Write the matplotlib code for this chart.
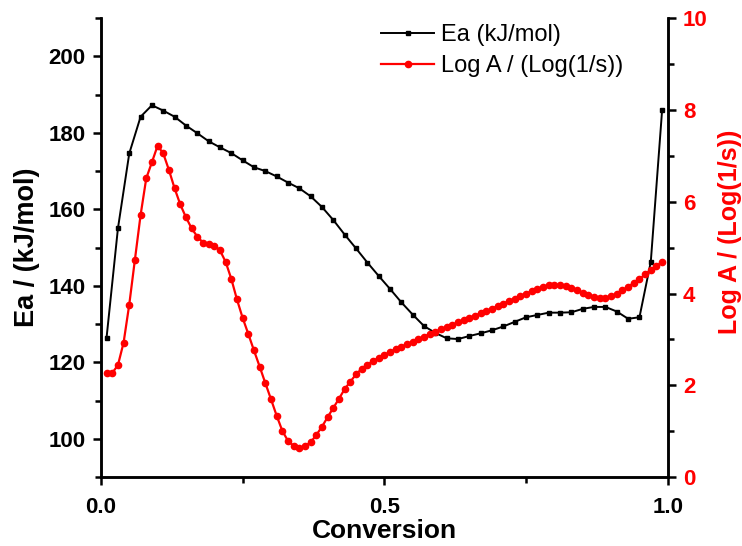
import numpy as np
import matplotlib.pyplot as plt
from matplotlib.ticker import MultipleLocator

plt.rcParams['font.family'] = ['Liberation Sans', 'DejaVu Sans']

# activation energy, every 0.02 of conversion
conv_ea = np.round(np.arange(0.01, 1.0, 0.02), 2)
ea = [126.5, 155.0, 174.6, 184.2, 187.2, 185.8, 184.2, 181.9, 179.9, 177.8,
      176.2, 174.7, 172.8, 171.0, 170.0, 168.6, 167.0, 165.5, 163.4, 160.6,
      157.2, 153.4, 149.8, 146.1, 142.6, 139.2, 135.7, 132.5, 129.5, 127.7,
      126.3, 126.1, 126.9, 127.6, 128.4, 129.4, 130.6, 131.8, 132.4, 133.0,
      133.0, 133.1, 134.0, 134.5, 134.5, 133.3, 131.4, 131.8, 146.3, 186.0]

# pre-exponential factor, every 0.01 of conversion
conv_a = np.round(np.arange(0.01, 1.0, 0.01), 2)
log_a = [2.28, 2.27, 2.44, 2.93, 3.76, 4.74, 5.71, 6.51, 6.86, 7.22,
         7.05, 6.69, 6.29, 5.94, 5.66, 5.42, 5.24, 5.11, 5.08, 5.04,
         4.94, 4.69, 4.32, 3.87, 3.47, 3.12, 2.76, 2.41, 2.05, 1.70,
         1.34, 1.01, 0.79, 0.68, 0.64, 0.68, 0.76, 0.92, 1.10, 1.31,
         1.51, 1.71, 1.92, 2.08, 2.24, 2.36, 2.45, 2.53, 2.60, 2.66,
         2.73, 2.79, 2.84, 2.90, 2.95, 3.01, 3.06, 3.12, 3.17, 3.22,
         3.27, 3.32, 3.37, 3.42, 3.47, 3.52, 3.57, 3.62, 3.67, 3.73,
         3.78, 3.84, 3.89, 3.95, 4.00, 4.05, 4.10, 4.15, 4.18, 4.19,
         4.18, 4.16, 4.12, 4.07, 4.02, 3.97, 3.93, 3.90, 3.91, 3.94,
         4.00, 4.07, 4.15, 4.23, 4.31, 4.42, 4.51, 4.60, 4.69]

fig = plt.figure(figsize=(7.42, 5.46), dpi=100)
ax = fig.add_axes([0.136, 0.126, 0.764, 0.841])
ax2 = ax.twinx()

l1, = ax.plot(conv_ea, ea, color='black', lw=1.4, marker='s', ms=3.5,
              label='Ea (kJ/mol)')
l2, = ax2.plot(conv_a, log_a, color='red', lw=1.6, marker='o', ms=4.5,
               label='Log A / (Log(1/s))')

ax.set_xlim(0, 1.0)
ax.set_ylim(90, 210)
ax2.set_ylim(0, 10)

ax.xaxis.set_minor_locator(MultipleLocator(0.25))
ax.yaxis.set_minor_locator(MultipleLocator(10))
ax2.yaxis.set_major_locator(MultipleLocator(2))
ax2.yaxis.set_minor_locator(MultipleLocator(1))
ax.set_xticks([0, 0.5, 1.0])
ax.set_xticklabels(['0.0', '0.5', '1.0'])
ax.set_yticks([100, 120, 140, 160, 180, 200])

for a in (ax, ax2):
    a.spines['top'].set_visible(False)
    for s in a.spines.values():
        s.set_linewidth(1.8)
    a.tick_params(which='major', direction='out', length=6, width=1.8, pad=5)
    a.tick_params(which='minor', direction='out', length=4, width=1.8)
ax.tick_params(axis='x', pad=8)

ax.tick_params(labelsize=16)
for lab in ax.get_xticklabels() + ax.get_yticklabels():
    lab.set_fontweight('bold')
ax2.tick_params(axis='y', labelsize=16, labelcolor='red')
for lab in ax2.get_yticklabels():
    lab.set_fontweight('bold')

ax.set_xlabel('Conversion', fontsize=19, fontweight='bold', labelpad=1)
ax.set_ylabel('Ea / (kJ/mol)', fontsize=19.5, fontweight='bold', labelpad=6)
ax2.set_ylabel('Log A / (Log(1/s))', fontsize=18, fontweight='bold',
               color='red')
ax2.yaxis.set_label_coords(1.088, 0.534)

ax.legend(handles=[l1, l2], loc='upper left',
          bbox_to_anchor=(381 / 742, 1 - 24 / 546),
          bbox_transform=fig.transFigure,
          frameon=False, fontsize=17, handlelength=2.25, handletextpad=0.3,
          borderaxespad=0, borderpad=0, labelspacing=0.4)

fig.savefig('out.png', dpi=100)
